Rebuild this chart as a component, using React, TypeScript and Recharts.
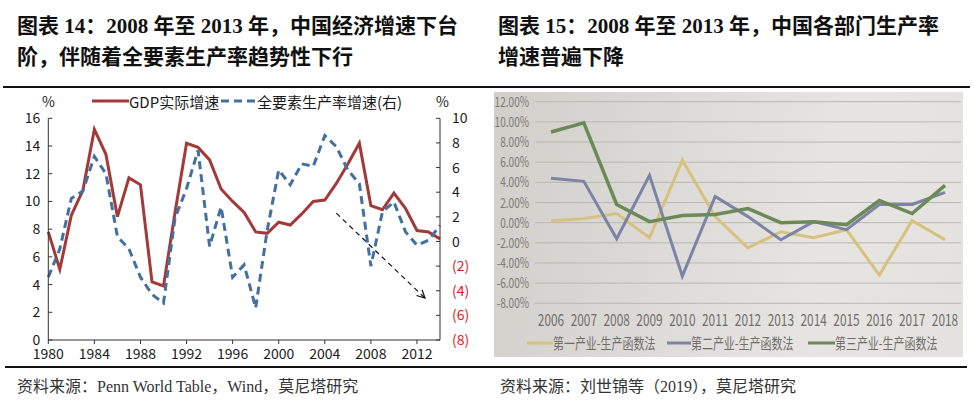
import React from "react"
import {
  CartesianGrid,
  Line,
  LineChart,
  ReferenceLine,
  XAxis,
  YAxis,
} from "recharts"

// left chart: GDP growth vs TFP growth, 1980-2014
const years = [
  1980, 1981, 1982, 1983, 1984, 1985, 1986, 1987, 1988, 1989, 1990, 1991,
  1992, 1993, 1994, 1995, 1996, 1997, 1998, 1999, 2000, 2001, 2002, 2003,
  2004, 2005, 2006, 2007, 2008, 2009, 2010, 2011, 2012, 2013, 2014,
]
const gdpGrowth = [
  7.8, 5.1, 9.0, 10.8, 15.2, 13.4, 8.9, 11.7, 11.2, 4.2, 3.9, 9.2, 14.2, 13.9,
  13.0, 10.9, 10.0, 9.2, 7.8, 7.7, 8.5, 8.3, 9.1, 10.0, 10.1, 11.3, 12.7, 14.2,
  9.7, 9.4, 10.6, 9.5, 7.9, 7.8, 7.3,
]
const tfpGrowth = [
  -2.9, -0.6, 3.5, 4.1, 6.9, 5.5, 0.4, -0.6, -2.9, -4.3, -5.0, 1.9, 4.3, 7.4,
  -0.4, 2.8, -2.9, -1.9, -5.4, 0.9, 5.8, 4.6, 6.3, 6.1, 8.6, 7.7, 5.8, 4.7,
  -2.0, 2.4, 3.2, 0.8, -0.3, 0.1, 1.3,
]
const yearTicks = [1980, 1984, 1988, 1992, 1996, 2000, 2004, 2008, 2012]
const leftTicks = [0, 2, 4, 6, 8, 10, 12, 14, 16]
const rightTicks = [-8, -6, -4, -2, 0, 2, 4, 6, 8, 10]
// trend arrow (year, right-axis value)
const arrowStart = { x: 2005, y: 2.3 }
const arrowEnd = { x: 2012.7, y: -4.6 }

// right chart: sector productivity growth, 2006-2018
const sectorYears = [
  "2006", "2007", "2008", "2009", "2010", "2011", "2012", "2013", "2014",
  "2015", "2016", "2017", "2018",
]
const primary = [0.2, 0.4, 0.9, -1.5, 6.2, 0.6, -2.5, -0.9, -1.5, -0.7, -5.2, 0.2, -1.7]
const secondary = [4.4, 4.1, -1.6, 4.7, -5.3, 2.6, 0.6, -1.7, 0.1, -0.7, 1.8, 1.8, 3.0]
const tertiary = [9.0, 9.9, 1.8, 0.1, 0.7, 0.8, 1.4, 0.0, 0.1, -0.2, 2.2, 0.9, 3.7]
const pctTicks = [-8, -6, -4, -2, 0, 2, 4, 6, 8, 10, 12]

const leftData = years.map((year, i) => ({
  year,
  gdp: gdpGrowth[i],
  tfp: tfpGrowth[i],
}))
const rightData = sectorYears.map((year, i) => ({
  year,
  primary: primary[i],
  secondary: secondary[i],
  tertiary: tertiary[i],
}))

const SANS = '"Noto Sans CJK SC", "Open Sans", sans-serif'
const SERIF = '"Liberation Serif", "Noto Sans CJK SC", serif'
const RED = "#a23a39"
const BLUE = "#43709f"
const PHOTO_TEXT = "#6f6e6b"

const RightTick = (props: any) => {
  const { x, y, payload } = props
  const v = payload.value
  const neg = v < 0
  return (
    <text x={x} y={y} dy="0.36em" textAnchor="start" fontSize={14} fontFamily={SANS} fill={neg ? "#e41a1a" : "#1a1a1a"}>
      {neg ? `(${-v})` : v}
    </text>
  )
}

// the photographed chart uses a condensed face, so squeeze the text
const YearTick = (props: any) => {
  const { x, y, payload } = props
  return (
    <g transform={`translate(${x},${y})`}>
      <text transform="scale(0.74,1)" textAnchor="middle" dy="0.71em" fontSize={16} fontFamily={SANS} fill={PHOTO_TEXT}>
        {payload.value}
      </text>
    </g>
  )
}

const PctTick = (props: any) => {
  const { x, y, payload } = props
  return (
    <g transform={`translate(${x},${y})`}>
      <text transform="scale(0.72,1)" textAnchor="end" dy="0.36em" fontSize={14} fontFamily={SANS} fill="#7a7976">
        {`${payload.value.toFixed(2)}%`}
      </text>
    </g>
  )
}

const Arrow = (p: any) => (
  <g>
    <defs>
      <marker id="arrowHead" markerWidth="10" markerHeight="10" refX="8" refY="5" orient="auto" markerUnits="userSpaceOnUse">
        <path d="M0,1 L8,5 L0,9" fill="none" stroke="#111" strokeWidth={1.2} />
      </marker>
    </defs>
    <line x1={p.x1} y1={p.y1} x2={p.x2} y2={p.y2} stroke="#111" strokeWidth={1.2} strokeDasharray="5 4" markerEnd="url(#arrowHead)" />
  </g>
)

const abs = (left: number, top: number, extra: React.CSSProperties = {}): React.CSSProperties => ({
  position: "absolute",
  left,
  top,
  whiteSpace: "nowrap",
  ...extra,
})

const titleStyle: React.CSSProperties = {
  fontFamily: SERIF,
  fontWeight: 700,
  fontSize: 21,
  lineHeight: "31px",
  color: "#111",
}

const photoLegend: React.CSSProperties = {
  fontFamily: SANS,
  fontSize: 15,
  color: PHOTO_TEXT,
  transform: "scaleX(0.73)",
  transformOrigin: "left center",
}

export default function App() {
  return (
    <div style={{ position: "absolute", left: 0, top: 0, width: 975, height: 409, background: "#fff", overflow: "hidden" }}>
      {/* titles */}
      <div style={abs(17, 11, titleStyle)}>
        图表 14：2008 年至 2013 年，中国经济增速下台
        <br />
        阶，伴随着全要素生产率趋势性下行
      </div>
      <div style={abs(498, 11, titleStyle)}>
        图表 15：2008 年至 2013 年，中国各部门生产率
        <br />
        增速普遍下降
      </div>
      <div style={abs(3, 86, { width: 967, height: 1.5, background: "#111" })} />
      <div style={abs(5, 366, { width: 962, height: 1.5, background: "#111" })} />

      {/* left chart */}
      <div style={abs(0, 85)}>
        <LineChart width={490} height={285} data={leftData} margin={{ top: 33.3, right: 10, bottom: 5, left: 8.3 }}>
          <XAxis
            dataKey="year"
            type="number"
            domain={[1980, 2014]}
            ticks={yearTicks}
            interval={0}
            tickSize={4}
            tickMargin={5}
            height={25}
            stroke="#333"
            tick={{ fill: "#1a1a1a", fontSize: 14, fontFamily: SANS }}
          />
          <YAxis
            yAxisId="left"
            domain={[0, 16]}
            ticks={leftTicks}
            interval={0}
            width={40}
            tickSize={-4}
            tickMargin={12}
            stroke="#333"
            tick={{ fill: "#1a1a1a", fontSize: 14, fontFamily: SANS }}
          />
          <YAxis
            yAxisId="right"
            orientation="right"
            domain={[-8, 10]}
            ticks={rightTicks}
            interval={0}
            width={40}
            tickSize={-4}
            tickMargin={16}
            stroke="#333"
            tick={<RightTick />}
          />
          <ReferenceLine
            yAxisId="right"
            segment={[arrowStart, arrowEnd]}
            ifOverflow="visible"
            shape={<Arrow />}
          />
          <Line yAxisId="left" dataKey="gdp" stroke={RED} strokeWidth={3} dot={false} isAnimationActive={false} />
          <Line yAxisId="right" dataKey="tfp" stroke={BLUE} strokeWidth={3} strokeDasharray="8 5" dot={false} isAnimationActive={false} />
        </LineChart>
      </div>
      <div style={abs(42, 91, { fontFamily: SANS, fontSize: 14, color: "#1a1a1a" })}>%</div>
      <div style={abs(436, 91, { fontFamily: SANS, fontSize: 14, color: "#1a1a1a" })}>%</div>
      <svg style={abs(92, 95)} width={40} height={12}>
        <line x1={0} y1={6} x2={37} y2={6} stroke={RED} strokeWidth={3} />
      </svg>
      <div style={abs(129, 91, { fontFamily: SANS, fontSize: 15, color: "#1a1a1a" })}>GDP实际增速</div>
      <svg style={abs(221, 95)} width={36} height={12}>
        <line x1={0} y1={6} x2={34} y2={6} stroke={BLUE} strokeWidth={3} strokeDasharray="8 5" />
      </svg>
      <div style={abs(257, 91, { fontFamily: SANS, fontSize: 15, color: "#1a1a1a" })}>全要素生产率增速(右)</div>

      {/* right chart (photo of a printed chart) */}
      <div
        style={abs(494, 92, {
          width: 469,
          height: 265,
          background: "linear-gradient(100deg, #d1cfca 0%, #dcdad6 35%, #e6e5e1 70%, #e3e2de 100%)",
        })}
      />
      <div style={abs(490, 85)}>
        <LineChart width={485} height={285} data={rightData} margin={{ top: 16.7, right: 14, bottom: 36.7, left: 0 }}>
          <CartesianGrid vertical={false} stroke="#b9b7b1" />
          <XAxis
            dataKey="year"
            padding={{ left: 16, right: 16 }}
            axisLine={false}
            tickLine={false}
            tickMargin={5}
            height={30}
            interval={0}
            tick={<YearTick />}
          />
          <YAxis
            domain={[-8, 12]}
            ticks={pctTicks}
            interval={0}
            width={45}
            axisLine={false}
            tickLine={false}
            tickMargin={0}
            tick={<PctTick />}
          />
          <Line dataKey="primary" stroke="#d6c27e" strokeWidth={3} dot={false} isAnimationActive={false} />
          <Line dataKey="secondary" stroke="#7d83a6" strokeWidth={3} dot={false} isAnimationActive={false} />
          <Line dataKey="tertiary" stroke="#6c8a57" strokeWidth={3.5} dot={false} isAnimationActive={false} />
        </LineChart>
      </div>
      <svg style={abs(527, 338)} width={26} height={10}>
        <line x1={0} y1={5} x2={26} y2={5} stroke="#d6c27e" strokeWidth={3} />
      </svg>
      <div style={abs(553, 332, photoLegend)}>第一产业-生产函数法</div>
      <svg style={abs(667, 338)} width={24} height={10}>
        <line x1={0} y1={5} x2={24} y2={5} stroke="#7d83a6" strokeWidth={3} />
      </svg>
      <div style={abs(691, 332, photoLegend)}>第二产业-生产函数法</div>
      <svg style={abs(808, 338)} width={27} height={10}>
        <line x1={0} y1={5} x2={27} y2={5} stroke="#6c8a57" strokeWidth={3} />
      </svg>
      <div style={abs(835, 332, photoLegend)}>第三产业-生产函数法</div>

      {/* sources */}
      <div style={abs(17, 373, { fontFamily: SERIF, fontSize: 16, color: "#333" })}>
        资料来源：Penn World Table，Wind，莫尼塔研究
      </div>
      <div style={abs(500, 373, { fontFamily: SERIF, fontSize: 16, color: "#333" })}>
        资料来源：刘世锦等（2019），莫尼塔研究
      </div>
    </div>
  )
}
